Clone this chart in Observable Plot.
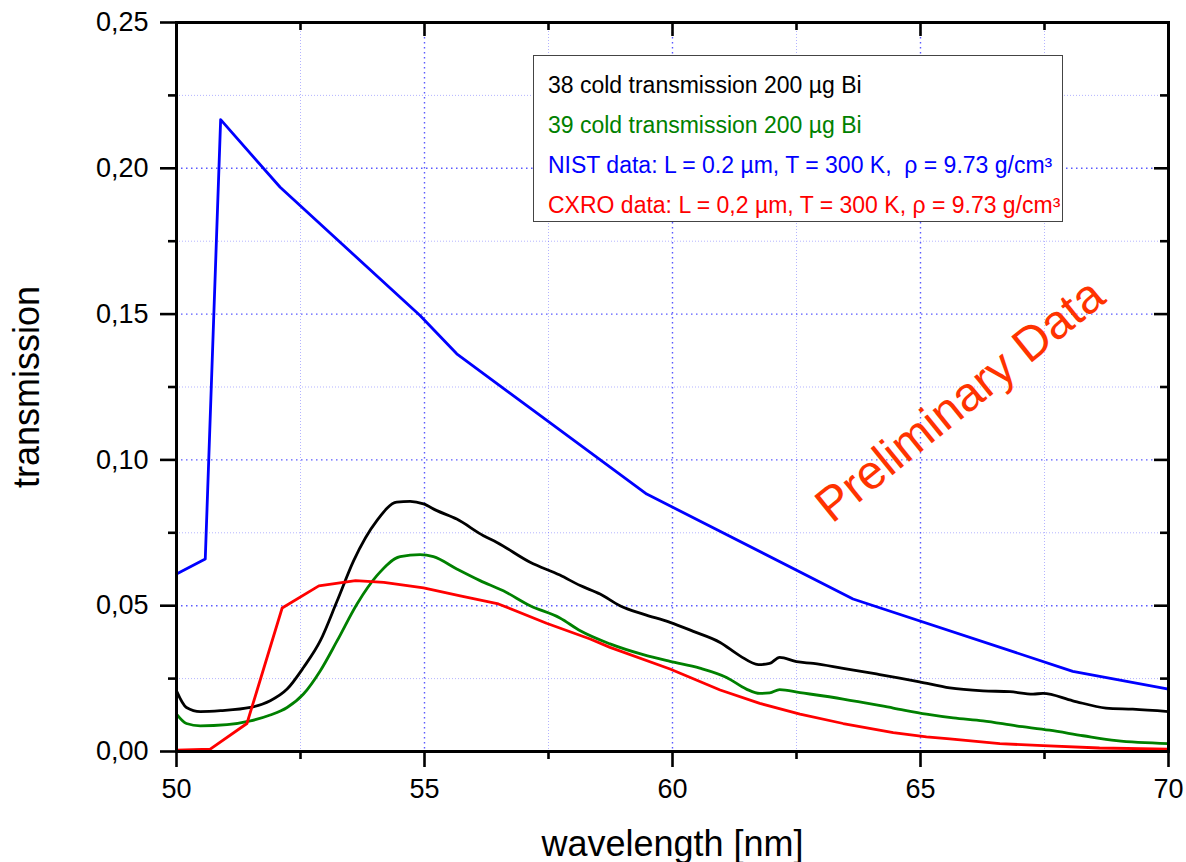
<!DOCTYPE html>
<html>
<head>
<meta charset="utf-8">
<script src="https://cdn.jsdelivr.net/npm/d3@7"></script>
<script src="https://cdn.jsdelivr.net/npm/@observablehq/plot@0.6"></script>
<style>
  html, body { margin: 0; padding: 0; background: #fff; }
  #wrap { position: relative; width: 1186px; height: 862px; font-family: "Liberation Sans", Arial, sans-serif; }
  #legend { position: absolute; left: 533px; top: 55px; width: 528px; height: 165px; border: 1.5px solid #444; background: #fff; }
  #legend div { position: absolute; left: 14px; font-size: 23px; line-height: 26px; white-space: pre; }
</style>
</head>
<body>
<div id="wrap"></div>
<script>
// ---- Data ----
const xDomain = [50, 70];
const yDomain = [0, 0.25];
const xMajorTicks = [50, 55, 60, 65, 70];
const xTickLabels = ["50", "55", "60", "65", "70"];
const xMinorTicks = [52.5, 57.5, 62.5, 67.5];
const yMajorTicks = [0, 0.05, 0.10, 0.15, 0.20, 0.25];
const yTickLabels = ["0,00", "0,05", "0,10", "0,15", "0,20", "0,25"];
const yMinorTicks = [0.025, 0.075, 0.125, 0.175, 0.225];

const seriesNames = [
  "38 cold transmission 200 µg Bi",
  "39 cold transmission 200 µg Bi",
  "NIST data: L = 0.2 µm, T = 300 K,  ρ = 9.73 g/cm³",
  "CXRO data: L = 0,2 µm, T = 300 K, ρ = 9.73 g/cm³"
];
const seriesColors = ["#000000", "#008000", "#0000ff", "#ff0000"];

const s38x = [50.0, 50.2, 50.48, 50.89, 51.49, 51.89, 52.23, 52.56, 52.90, 53.24, 53.57, 54.04, 54.44, 54.71, 54.98, 55.25, 55.65, 56.19, 56.46, 57.13, 57.73, 58.14, 58.54, 58.94, 59.41, 59.95, 60.42, 60.96, 61.36, 61.73, 61.96, 62.16, 62.50, 62.84, 63.44, 64.11, 64.58, 64.98, 65.59, 66.26, 66.80, 67.27, 67.47, 68.07, 68.74, 69.28, 70.0];
const s38y = [0.0208, 0.0151, 0.0137, 0.0140, 0.0151, 0.0174, 0.0214, 0.0288, 0.0380, 0.0517, 0.0654, 0.0792, 0.0855, 0.0858, 0.0849, 0.0826, 0.0797, 0.0740, 0.0717, 0.0649, 0.0605, 0.0569, 0.0540, 0.0500, 0.0471, 0.0443, 0.0412, 0.0374, 0.0328, 0.0298, 0.0302, 0.0323, 0.0308, 0.0302, 0.0285, 0.0266, 0.0252, 0.0239, 0.0218, 0.0208, 0.0205, 0.0197, 0.0199, 0.0174, 0.0149, 0.0145, 0.0137];

const s39x = [50.0, 50.2, 50.48, 51.02, 51.49, 51.89, 52.23, 52.56, 52.90, 53.24, 53.64, 54.04, 54.51, 54.91, 55.18, 55.65, 56.12, 56.59, 57.13, 57.73, 58.14, 58.74, 59.41, 59.95, 60.55, 61.09, 61.49, 61.76, 61.96, 62.16, 62.57, 63.44, 64.45, 65.12, 65.66, 66.26, 66.93, 67.60, 68.28, 68.95, 70.0];
const s39y = [0.0128, 0.0096, 0.0088, 0.0092, 0.0105, 0.0125, 0.0151, 0.0197, 0.0277, 0.0380, 0.0506, 0.0603, 0.0668, 0.0675, 0.0668, 0.0626, 0.0586, 0.0551, 0.0500, 0.0458, 0.0414, 0.0369, 0.0332, 0.0309, 0.0286, 0.0254, 0.0214, 0.0199, 0.0201, 0.0212, 0.0202, 0.0180, 0.0149, 0.0128, 0.0115, 0.0105, 0.0088, 0.0073, 0.0054, 0.0037, 0.0027];

const nistX = [50.0, 50.58, 50.89, 52.09, 54.91, 55.65, 57.20, 59.48, 63.64, 68.07, 70.0];
const nistY = [0.0609, 0.0660, 0.2167, 0.1935, 0.1495, 0.1364, 0.1169, 0.0883, 0.0523, 0.0275, 0.0214];

const cxroX = [50.0, 50.68, 51.42, 52.13, 52.87, 53.61, 54.18, 54.98, 55.72, 56.49, 57.46, 58.34, 58.74, 59.95, 60.96, 61.76, 62.57, 63.44, 64.45, 65.12, 65.59, 66.60, 67.47, 68.61, 70.0];
const cxroY = [0.0005, 0.0008, 0.0096, 0.0492, 0.0568, 0.0586, 0.0580, 0.0561, 0.0534, 0.0506, 0.0440, 0.0386, 0.0357, 0.0283, 0.0211, 0.0165, 0.0128, 0.0096, 0.0065, 0.0050, 0.0043, 0.0027, 0.0020, 0.0012, 0.0008];

const watermark = [{x: 65.8, y: 0.1203, text: "Preliminary Data"}];
const xTitle = "wavelength [nm]";
const yTitle = "transmission";

// ---- Build tables ----
const toRows = (xs, ys) => xs.map((x, i) => ({x, y: ys[i]}));
const series = [toRows(s38x, s38y), toRows(s39x, s39y), toRows(nistX, nistY), toRows(cxroX, cxroY)];
const curves = ["monotone-x", "monotone-x", "linear", "linear"];

const font = "Liberation Sans, Arial, sans-serif";
const majorGrid = {stroke: "#2222ff", strokeOpacity: 0.75, strokeWidth: 1.4, strokeDasharray: "1.5,3.5"};
const minorGrid = {stroke: "#4444ff", strokeOpacity: 0.4, strokeWidth: 1, strokeDasharray: "1,2"};

const chart = Plot.plot({
  width: 1186,
  height: 862,
  marginLeft: 176,
  marginRight: 18,
  marginTop: 22,
  marginBottom: 111,
  style: {fontFamily: font, background: "white", color: "black", overflow: "visible"},
  x: {domain: xDomain},
  y: {domain: yDomain},
  marks: [
    // grid
    Plot.ruleX(xMinorTicks, {x: d => d, ...minorGrid}),
    Plot.ruleY(yMinorTicks, {y: d => d, ...minorGrid}),
    Plot.ruleX(xMajorTicks.slice(1, -1), {x: d => d, ...majorGrid}),
    Plot.ruleY(yMajorTicks.slice(1, -1), {y: d => d, ...majorGrid}),
    // series
    ...series.map((rows, i) => Plot.line(rows, {x: "x", y: "y", stroke: seriesColors[i], strokeWidth: 2.8, curve: curves[i], strokeLinejoin: "round"})),
    // watermark
    Plot.text(watermark, {x: "x", y: "y", text: "text", rotate: -39, fontSize: 48, fill: "#ff3300", fontFamily: font}),
    // frame and axes
    Plot.frame({stroke: "black", strokeWidth: 3}),
    Plot.axisX(xMajorTicks, {anchor: "bottom", tickSize: 16, tickPadding: 11, strokeWidth: 2.6, fontSize: 27,
      tickFormat: d => xTickLabels[xMajorTicks.indexOf(d)], label: null}),
    Plot.axisX(xMinorTicks, {anchor: "bottom", tickSize: 8, strokeWidth: 2.6, fill: "none", label: null}),
    Plot.axisY(yMajorTicks, {anchor: "left", tickSize: 16, tickPadding: 12, strokeWidth: 2.6, fontSize: 27,
      tickFormat: d => yTickLabels[yMajorTicks.indexOf(d)], label: null}),
    Plot.axisY(yMinorTicks, {anchor: "left", tickSize: 8, strokeWidth: 2.6, fill: "none", label: null}),
    // inward ticks on top and right
    Plot.ruleX(xMajorTicks, {x: d => d, y1: yDomain[1], y2: yDomain[1], insetBottom: -14, stroke: "black", strokeWidth: 2.6}),
    Plot.ruleX(xMinorTicks, {x: d => d, y1: yDomain[1], y2: yDomain[1], insetBottom: -8, stroke: "black", strokeWidth: 2.6}),
    Plot.ruleY(yMajorTicks, {y: d => d, x1: xDomain[1], x2: xDomain[1], insetLeft: -14, stroke: "black", strokeWidth: 2.6}),
    Plot.ruleY(yMinorTicks, {y: d => d, x1: xDomain[1], x2: xDomain[1], insetLeft: -8, stroke: "black", strokeWidth: 2.6}),
    // axis titles
    Plot.text([xTitle], {frameAnchor: "bottom", dy: 93, lineAnchor: "middle", textAnchor: "middle", text: d => d, fontSize: 36, fill: "black", fontFamily: font}),
    Plot.text([yTitle], {frameAnchor: "left", dx: -149, lineAnchor: "middle", textAnchor: "middle", text: d => d, rotate: -90, fontSize: 36, fill: "black", fontFamily: font})
  ]
});

const wrap = document.getElementById("wrap");
wrap.appendChild(chart);

// legend (inside plot area, top right)
const legend = document.createElement("div");
legend.id = "legend";
const legendTops = [16, 56, 96, 136];
seriesNames.forEach((name, i) => {
  const line = document.createElement("div");
  line.style.top = legendTops[i] + "px";
  line.style.color = seriesColors[i];
  line.textContent = name;
  legend.appendChild(line);
});
wrap.appendChild(legend);
</script>
</body>
</html>
